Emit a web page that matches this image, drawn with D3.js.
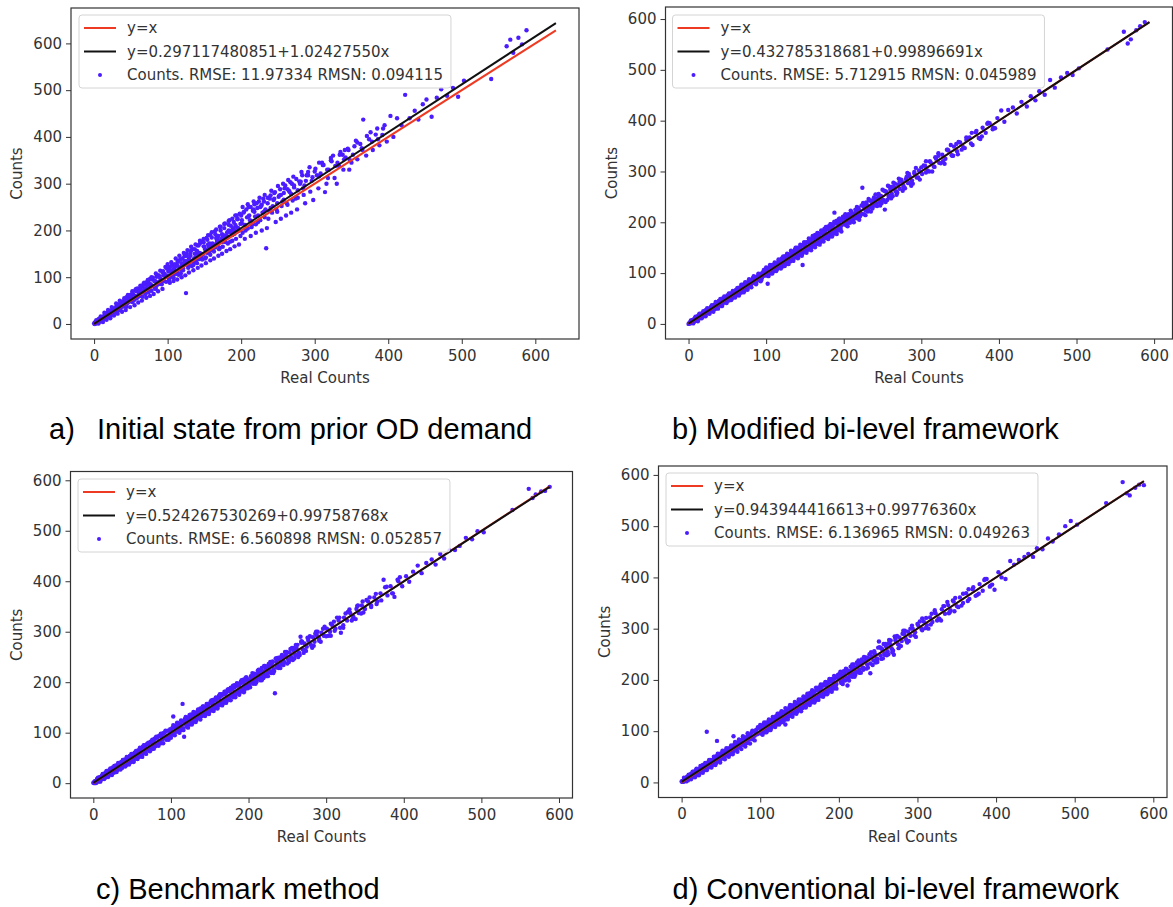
<!DOCTYPE html>
<html>
<head>
<meta charset="utf-8">
<script src="https://cdn.jsdelivr.net/npm/d3@7"></script>
<style>
  body { margin: 0; background: #fff; }
  svg text { font-family: "DejaVu Sans", sans-serif; }
  .tick text { font-size: 15px; fill: #333; }
  .tick line { stroke: #333; }
  .caption { font-family: "Liberation Sans", Arial, sans-serif; font-size: 29px; fill: #000; }
</style>
</head>
<body>
<div id="chart"></div>
<script>
const width = 1173, height = 907;

// real (observed) link counts, shared by all four panels
const realCounts = [
  0,1,1,2,3,3,4,5,6,6, 7,8,9,10,10,11,12,14,14,15, 16,17,18,18,19,21,22,23,23,24, 26,27,28,29,30,30,32,33,34,35,
  36,38,39,40,41,42,43,45,46,47, 48,50,51,52,53,55,56,57,58,60, 61,62,64,65,66,68,69,70,71,73, 74,75,77,78,79,81,82,84,85,86,
  88,89,90,92,93,95,96,98,99,
  101,102,103,105,106,107,109,110,111,113, 114,115,117,118,119,121,122,123,125,126, 128,129,130,132,133,134,136,137,139,140,
  141,143,144,146,147,148,150,151,153,154, 155,157,158,160,161,162,164,165,167,168, 169,171,172,174,175,176,178,179,181,182,
  184,185,186,188,189,191,192,194,195,197, 198,
  200,202,204,205,207,209,211,213,214,216, 218,220,222,224,226,228,230,232,234,236, 238,240,242,244,246,248,251,253,255,258,
  260,262,265,267,270,272,275,277,280,283, 285,288,291,294,297,
  301,305,308,312,316,319,323,327,331,335, 339,342,346,350,354,358,362,366,370,374, 379,383,388,393,398,
  403,407,412,418,423,429,436,441,447,452, 459,466,472,480,488,495,503,540,561,566, 570,577,582,588,
  // second batch of links
  2,4,5,7,8,9,11,12,13,15, 16,18,20,20,22,25,25,27,29,31, 33,34,36,37,39,42,44,44,47,49,
  50,52,54,56,58,59,61,63,66,67, 70,72,74,76,79,80,83,87,91,94,
  100,102,104,106,108,110,112,114,116,118, 120,121,124,126,128,131,133,135,137,138, 140,142,145,147,149,151,152,154,156,158,
  160,162,163,165,167,170,172,173,175,177, 180,182,183,186,188,190,191,193,195,196, 199,
  201,203,206,208,210,212,215,217,219,221, 223,226,229,231,233,237,239,243,245,249, 252,256,259,263,266,269,274,279,284,289,
  303,310,318,325,333,341,348,356,365,376,386,395,
  // third batch of links
  3,6,9,12,14,17,19,22,24,27, 30,32,35,38,41,43,46,49,52,55, 57,60,63,65,68,71,73,76,78,81, 84,87,90,93,97,
  100,103,105,108,111,113,116,119,122,124, 127,129,132,135,138,141,144,146,149,152, 155,158,160,163,166,169,171,174,177,180,
  183,185,188,191,194,197,108,126,143,159, 168,176,187,193,199,
  202,205,209,213,217,220,225,228,232,235, 241,247,250,254,257,261,264,268,271,276, 282,287,293,298,306,314,322,330,338,347,
  // fourth batch of links
  62,67,72,77,83,88,94,99,
  104,109,113,118,123,127,131,136,140,145, 149,153,157,162,166,170,174,179,183,187, 192,196,
  201,205,210,214,218,223,227,231,236,240, 245,249,254,258,263,268,272,277,281,286, 291,296,
  300,306,311,317,322,328,334,340,345,352, 358,364,371,378,385,392
];

// a) initial state from prior OD demand
const countsA = [
  1,3,0,4,2,6,3,7,5,10, 6,12,9,14,8,12,11,18,13,16, 21,15,22,17,20,19,28,22,27,23, 32,26,31,25,36,29,35,30,42,34,
  44,37,42,38,50,41,46,44,55,47, 57,49,58,47,64,53,60,56,70,58, 73,60,70,59,80,67,75,64,86,74, 89,73,85,71,95,80,92,77,101,84,
  104,86,98,85,111,92,107,90,119,
  112,96,122,101,125,104,118,108,123,112, 134,105,138,116,130,119,128,145,66,150, 124,140,131,157,124,160,133,150,136,150,
  168,139,172,145,176,149,165,140,184,152, 170,155,190,158,172,162,198,164,180,170, 188,163,208,175,188,180,215,175,196,186,
  222,176,210,190,205,193,232,197,225,200, 236,
  232,195,240,212,245,204,232,250,207,242, 256,213,248,262,222,255,268,228,162,270, 242,275,238,265,282,245,272,288,252,280,
  296,258,285,303,264,292,310,270,300,318, 276,306,325,283,314,
  332,290,322,340,300,330,348,312,345,368, 330,356,372,345,380,352,385,437,360,395, 372,405,382,418,390,
  445,400,440,425,490,440,456,437,470,480, 443,484,502,488,505,486,520,524,594,608, 580,612,598,628,
  1,6,2,10,5,13,8,15,10,20, 13,24,18,26,15,31,22,33,26,40, 29,40,33,47,42,53,37,57,48,62,
  52,66,50,72,55,76,64,78,58,85, 76,90,68,96,82,99,75,104,88,113,
  118,94,112,125,100,128,107,134,120,108, 140,115,133,146,120,152,135,126,160,142, 130,168,150,138,175,160,142,180,165,148,
  185,170,155,192,175,160,200,182,165,205, 190,172,212,196,178,218,200,182,224,205, 188,
  215,238,200,228,250,222,212,245,230,258, 218,250,238,262,245,225,268,252,280,240, 275,262,290,255,282,300,268,305,290,318,
  318,345,312,360,338,372,350,392,372,410,395,425,
  8,1,16,4,24,9,30,12,36,18, 44,22,50,26,55,30,62,36,70,40, 75,46,82,50,88,56,94,60,100,64, 108,70,114,75,122,
  128,88,132,92,140,95,146,100,152,104, 158,110,165,115,170,120,178,125,182,130, 190,136,196,140,202,146,208,150,214,156,
  220,160,225,166,232,170,116,134,152,170, 180,190,200,208,214,
  250,182,256,188,262,195,270,200,276,205, 285,218,295,225,300,232,308,238,315,245, 325,258,335,265,345,282,355,300,362,330,
  70,72,82,80,92,90,104,103,
  115,112,126,122,135,133,146,140,156,150, 166,158,172,168,184,176,192,186,200,194, 212,204,
  222,212,230,220,240,232,252,240,258,248, 268,258,276,266,288,278,296,286,304,296, 318,306,
  326,316,340,330,350,338,362,352,375,362, 388,376,402,390,418,404
];

// b) modified bi-level framework
const countsB = [
  0,2,1,1,5,3,6,4,8,5, 9,7,11,9,13,10,15,12,16,13, 19,15,20,17,22,19,24,21,26,22, 29,25,31,26,33,28,35,30,37,32,
  40,36,43,38,45,40,47,42,50,44, 52,47,55,49,57,52,60,54,63,57, 65,59,69,62,71,65,74,67,76,70, 79,72,82,75,85,78,87,81,91,83,
  93,86,96,89,99,92,102,95,105,
  98,79,106,103,110,104,113,107,115,109, 119,112,122,114,125,118,128,120,130,123, 133,126,136,129,139,131,142,134,145,137,
  147,140,151,143,116,154,146,158,149,161, 151,164,154,167,157,169,160,172,163,175, 165,178,168,181,171,184,174,186,177,189,
  180,192,183,219,186,198,189,201,192,204, 195,
  197,207,200,210,203,213,206,217,209,221, 213,224,217,268,230,223,234,227,230,240, 233,244,237,248,240,252,244,225,259,252,
  264,256,269,261,274,266,280,272,285,277, 290,282,296,288,302,
  295,311,302,318,310,325,317,333,325,341, 332,349,340,357,348,362,367,352,377,366, 386,376,395,386,405,
  420,398,421,426,414,437,428,448,440,458, 451,480,465,485,494,490,503,540,575,552, 560,578,586,594,
  3,2,8,4,11,6,14,9,17,11, 20,14,24,16,27,21,30,22,34,27, 38,29,41,31,45,36,50,39,53,43,
  56,46,60,50,64,53,67,57,72,61, 77,65,81,69,86,74,90,80,98,87,
  106,95,111,99,116,104,119,107,124,111, 129,113,133,118,137,123,142,127,146,131, 150,134,155,139,159,143,161,146,166,150,
  171,153,175,157,178,161,183,165,187,169, 192,172,196,176,200,180,203,184,207,187, 211,
  210,194,216,199,220,203,225,208,228,212, 233,216,239,221,243,227,249,232,256,238, 262,244,270,251,276,258,284,267,295,276,
  312,300,328,316,343,331,358,346,376,364,396,385,
  7,1,14,5,20,11,25,15,31,20, 37,24,43,30,49,35,54,41,60,47, 65,52,71,56,77,62,82,67,88,72, 94,78,99,84,106,
  111,94,116,99,121,104,127,109,133,114, 138,118,144,124,150,129,156,134,161,140, 168,145,173,151,179,156,184,162,191,167,
  196,172,201,177,207,182,115,134,150,166, 175,184,195,201,208,
  216,192,223,200,230,205,238,214,246,221, 255,233,264,240,272,247,278,254,286,262, 297,272,307,284,320,300,336,315,352,334,
  64,65,75,74,86,85,97,96,
  108,106,117,115,127,124,136,132,145,141, 154,149,162,158,171,166,180,174,189,182, 197,191,
  207,199,216,208,225,217,233,225,243,233, 252,242,261,250,270,260,280,269,289,278, 299,288,
  308,298,320,309,331,320,343,331,354,343, 367,355,380,369,394,383
];

// c) benchmark method
const countsC = [
  1,0,2,3,2,4,5,7,5,8, 6,10,8,12,9,14,11,16,13,19, 15,20,16,21,18,25,20,27,22,24, 30,26,32,28,34,29,37,31,39,33,
  41,37,45,39,47,41,49,44,52,46, 54,48,57,50,60,53,63,55,65,58, 68,60,72,63,74,66,77,68,79,71, 82,73,85,76,88,79,90,82,94,84,
  96,87,99,90,102,93,104,96,107,
  104,99,132,101,108,110,106,113,109,116, 111,157,92,121,117,125,119,128,122,131, 125,134,127,137,130,140,133,143,136,146,
  138,150,141,153,144,155,147,158,149,161, 152,164,155,168,158,171,161,173,163,176, 166,179,169,182,172,185,174,187,177,190,
  180,193,183,196,186,199,189,202,192,205, 195,
  203,199,208,202,211,205,216,209,218,212, 222,215,226,218,230,222,234,226,178,240, 232,245,236,249,240,253,245,259,250,263,
  254,267,259,290,265,277,270,282,275,289, 280,293,286,298,292,
  306,300,313,306,322,298,328,322,337,330, 345,337,352,345,360,352,368,360,376,403, 372,390,369,400,390,
  410,399,419,431,416,436,443,433,454,445, 461,462,470,486,483,499,497,541,583,565, 572,578,579,587,
  4,1,9,3,12,5,15,8,18,10, 21,13,25,15,28,20,31,21,35,26, 39,28,42,30,46,35,51,38,54,42,
  57,45,61,49,65,52,68,56,74,60, 78,64,82,68,88,73,92,79,99,86,
  95,110,98,114,102,118,105,123,108,127, 112,130,116,136,120,140,125,145,129,148, 133,152,137,157,141,161,144,165,148,169,
  151,173,155,176,158,181,163,185,166,189, 170,194,174,197,178,201,182,205,185,208, 188,
  192,212,197,217,200,223,204,228,208,232, 212,236,218,241,222,248,228,254,234,260, 240,268,247,274,254,280,262,291,272,300,
  292,320,308,336,322,352,338,368,355,388,376,408,
  0,11,3,18,8,24,12,29,16,34, 22,40,27,46,33,52,37,58,42,64, 48,70,52,75,58,80,63,86,68,92, 74,98,79,104,86,
  90,115,95,120,100,124,105,131,110,135, 116,141,121,146,126,152,133,157,137,164, 143,170,148,176,154,181,159,186,164,193,
  170,198,175,204,180,210,116,134,151,167, 176,183,194,200,206,
  190,218,197,225,204,232,212,240,218,247, 228,260,237,266,244,274,250,281,258,288, 268,300,280,310,292,328,308,344,325,360,
  60,70,70,81,80,92,91,103,
  101,114,110,123,120,132,127,141,136,151, 145,159,153,168,161,177,169,186,177,195, 186,204,
  195,212,203,222,211,231,220,240,229,249, 238,258,246,268,255,278,264,287,272,296, 282,306,
  291,316,302,328,313,339,325,351,336,363, 349,375,362,389,376,403
];

// d) conventional bi-level framework
const countsD = [
  2,1,3,2,6,3,4,7,5,9, 8,6,11,10,14,12,10,17,13,18, 15,20,16,22,19,24,20,26,23,29, 25,31,27,33,29,35,99,31,37,33,
  40,35,43,38,45,40,47,81,44,52, 47,55,49,58,51,60,54,62,56,66, 59,68,62,71,90,74,67,77,69,79, 72,82,75,85,77,88,80,91,83,93,
  86,97,88,100,91,103,94,106,97,
  99,106,101,109,104,112,107,115,109,118, 111,121,114,124,116,127,119,130,122,133, 124,136,127,113,138,130,142,133,145,136,
  148,139,151,142,154,145,157,147,160,150, 162,153,165,156,168,158,171,161,175,163, 177,166,180,169,183,171,186,174,189,177,
  192,180,194,183,197,186,200,189,203,192, 206,
  203,198,209,201,212,206,189,217,210,220, 213,224,216,228,220,231,224,235,238,230, 242,213,246,238,250,242,275,248,260,252,
  265,256,270,262,249,277,270,283,276,290, 281,294,286,300,293,
  306,300,314,307,322,313,330,320,338,329, 346,336,353,344,361,350,369,358,377,364, 387,374,397,384,376,
  410,400,397,432,425,434,440,446,440,457, 455,476,470,484,500,510,503,545,586,564, 560,575,581,580,
  1,8,3,11,4,14,7,17,10,21, 12,24,15,26,18,31,20,34,24,37, 28,40,30,44,34,49,38,51,42,56,
  45,59,48,63,52,66,55,70,60,74, 64,78,68,82,73,87,77,93,84,101,
  108,95,113,98,117,102,121,106,125,110, 129,113,134,117,138,122,143,126,147,130, 150,134,155,138,159,142,162,145,166,149,
  170,153,174,156,178,160,182,164,186,168, 191,172,195,175,199,180,202,183,206,186, 210,
  212,194,217,199,221,202,226,206,230,210, 234,214,240,220,244,224,250,229,256,235, 264,242,270,250,277,257,286,266,296,276,
  314,301,329,316,344,332,360,345,377,366,397,386,
  9,2,15,6,21,10,27,14,32,19, 38,24,44,29,50,34,56,39,62,45, 67,50,72,55,79,60,84,65,90,70, 96,76,101,82,108,
  112,93,117,98,123,102,128,108,134,113, 139,118,145,123,151,128,157,134,162,139, 168,146,173,151,180,156,185,161,191,167,
  196,172,202,177,208,183,116,132,151,165, 176,183,195,200,207,
  216,192,222,199,230,206,238,214,245,222, 254,234,263,241,270,248,278,254,285,262, 296,273,306,284,320,300,336,316,352,334,
  65,64,76,74,87,85,98,96,
  109,106,118,114,128,123,137,131,146,140, 155,148,163,157,172,165,181,173,190,181, 198,190,
  208,198,217,207,226,216,234,224,244,232, 253,241,262,249,271,259,281,268,290,277, 300,287,
  309,297,321,308,332,319,344,330,355,342, 368,354,381,368,395,382
];

const estimatedCounts = [countsA, countsB, countsC, countsD];
const fitIntercepts = ["0.297117480851", "0.432785318681", "0.524267530269", "0.943944416613"];
const fitSlopes = ["1.02427550", "0.99896691", "0.99758768", "0.99776360"];
const rmseValues = ["11.97334", "5.712915", "6.560898", "6.136965"];
const rmsnValues = ["0.094115", "0.045989", "0.052857", "0.049263"];
const panelLetters = ["a)", "b)", "c)", "d)"];
const panelTitles = ["Initial state from prior OD demand", "Modified bi-level framework",
  "Benchmark method", "Conventional bi-level framework"];
const xTicks = [0, 100, 200, 300, 400, 500, 600];
const yTicks = [0, 100, 200, 300, 400, 500, 600];

// where each axes box sits on the page
const layout = [
  {left: 71, right: 579, top: 8, bottom: 339, legX: 79, legY: 15, capX: 49, titleX: 97, capY: 439},
  {left: 665.5, right: 1172.5, top: 7, bottom: 339, legX: 672.5, legY: 15, capX: 672, capY: 439},
  {left: 70.5, right: 572.5, top: 471.5, bottom: 798, legX: 78, legY: 479, capX: 96, capY: 899},
  {left: 658.5, right: 1167, top: 466, bottom: 797.5, legX: 666, legY: 473, capX: 672.5, capY: 899}
];

const redColor = "#ee3a22", dotColor = "#4a1cff";

let svg = d3.select("#chart")
  .append("svg")
  .attr("width", width)
  .attr("height", height);

estimatedCounts.forEach((counts, i) => drawPanel(i, counts));

function pad(ext) {
  // matplotlib style 5% margins
  const m = (ext[1] - ext[0]) * 0.05;
  return [ext[0] - m, ext[1] + m];
}

function drawPanel(i, counts) {
  const box = layout[i];
  const b0 = +fitIntercepts[i], b1 = +fitSlopes[i];
  const points = realCounts.map((x, k) => [x, counts[k]]);
  if (counts.length !== realCounts.length) console.warn("length mismatch in panel", i);

  // both lines run over the full range of the data
  const lineEnd = d3.max([d3.max(realCounts), d3.max(counts)]);
  const lineStart = d3.min(realCounts);
  const identity = [[lineStart, lineStart], [lineEnd, lineEnd]];
  const fit = [[lineStart, b0 + b1 * lineStart], [lineEnd, b0 + b1 * lineEnd]];

  const xExt = d3.extent(realCounts.concat([lineStart, lineEnd]));
  const yExt = d3.extent(counts.concat([identity[0][1], identity[1][1], fit[0][1], fit[1][1]]));

  const x = d3.scaleLinear().domain(pad(xExt)).range([box.left, box.right]);
  const y = d3.scaleLinear().domain(pad(yExt)).range([box.bottom, box.top]);

  const g = svg.append("g").attr("class", "panel");

  g.append("clipPath").attr("id", "clip" + i)
    .append("rect")
    .attr("x", box.left).attr("y", box.top)
    .attr("width", box.right - box.left).attr("height", box.bottom - box.top);

  const plot = g.append("g").attr("clip-path", `url(#clip${i})`);

  plot.append("g").selectAll("circle")
    .data(points)
    .join("circle")
    .attr("cx", (d) => x(d[0]))
    .attr("cy", (d) => y(d[1]))
    .attr("r", 2.2)
    .attr("fill", dotColor);

  const line = d3.line().x((d) => x(d[0])).y((d) => y(d[1]));

  plot.append("path").datum(identity)
    .attr("d", line)
    .attr("fill", "none")
    .attr("stroke", redColor)
    .attr("stroke-width", 2);

  plot.append("path").datum(fit)
    .attr("d", line)
    .attr("fill", "none")
    .attr("stroke", "#111")
    .attr("stroke-width", 2);

  // axes
  g.append("g")
    .attr("transform", `translate(0,${box.bottom})`)
    .call(d3.axisBottom(x).tickValues(xTicks).tickSize(5).tickPadding(6))
    .call((a) => a.select(".domain").remove());

  g.append("g")
    .attr("transform", `translate(${box.left},0)`)
    .call(d3.axisLeft(y).tickValues(yTicks).tickSize(5).tickPadding(4))
    .call((a) => a.select(".domain").remove());

  g.append("rect")
    .attr("x", box.left).attr("y", box.top)
    .attr("width", box.right - box.left).attr("height", box.bottom - box.top)
    .attr("fill", "none")
    .attr("stroke", "#333")
    .attr("stroke-width", 1.2);

  g.append("text")
    .attr("x", (box.left + box.right) / 2)
    .attr("y", box.bottom + 44)
    .attr("text-anchor", "middle")
    .attr("font-size", 15)
    .attr("fill", "#333")
    .text("Real Counts");

  g.append("text")
    .attr("transform", `translate(${box.left - 54},${(box.top + box.bottom) / 2}) rotate(-90)`)
    .attr("text-anchor", "middle")
    .attr("dominant-baseline", "central")
    .attr("font-size", 15)
    .attr("fill", "#333")
    .text("Counts");

  drawLegend(g, box, i);

  // caption below the panel
  let cap = g.append("text").attr("class", "caption")
    .attr("x", box.capX).attr("y", box.capY);
  if (box.titleX) {
    cap.append("tspan").text(panelLetters[i]);
    cap.append("tspan").attr("x", box.titleX).text(panelTitles[i]);
  } else {
    cap.text(panelLetters[i] + " " + panelTitles[i]);
  }
}

function drawLegend(g, box, i) {
  const labels = [
    "y=x",
    `y=${fitIntercepts[i]}+${fitSlopes[i]}x`,
    `Counts. RMSE: ${rmseValues[i]} RMSN: ${rmsnValues[i]}`
  ];
  const rowY = [13, 36.5, 60];
  let leg = g.append("g").attr("transform", `translate(${box.legX},${box.legY})`);

  let frame = leg.append("rect")
    .attr("rx", 3).attr("ry", 3)
    .attr("height", 73)
    .attr("fill", "#fff")
    .attr("fill-opacity", 0.8)
    .attr("stroke", "#d4d4d4")
    .attr("stroke-width", 1);

  leg.append("line")
    .attr("x1", 5).attr("x2", 37).attr("y1", rowY[0]).attr("y2", rowY[0])
    .attr("stroke", redColor).attr("stroke-width", 2);
  leg.append("line")
    .attr("x1", 5).attr("x2", 37).attr("y1", rowY[1]).attr("y2", rowY[1])
    .attr("stroke", "#111").attr("stroke-width", 2);
  leg.append("circle")
    .attr("cx", 21).attr("cy", rowY[2]).attr("r", 2)
    .attr("fill", dotColor);

  let texts = leg.selectAll("text.legend")
    .data(labels)
    .join("text")
    .attr("class", "legend")
    .attr("x", 48)
    .attr("y", (d, k) => rowY[k])
    .attr("dominant-baseline", "central")
    .attr("font-size", 15)
    .attr("fill", "#333")
    .text((d) => d);

  let longest = d3.max(texts.nodes(), (n) => n.getComputedTextLength());
  frame.attr("width", 48 + longest + 8);
}
</script>
</body>
</html>
